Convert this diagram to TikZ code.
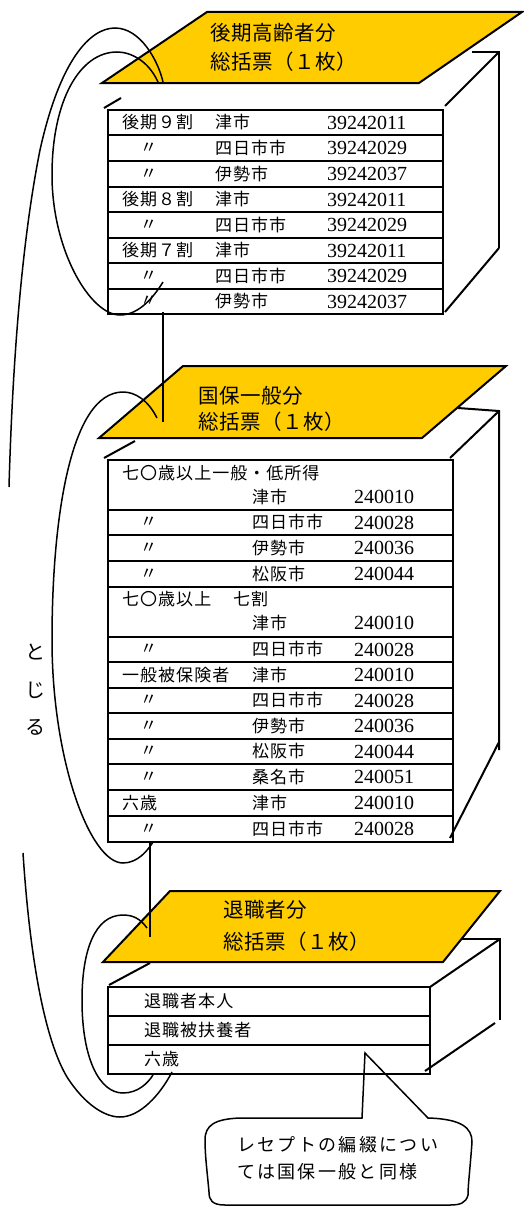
\documentclass[tikz,border=0pt]{standalone}
\usepackage{fontspec}
\setmainfont{Liberation Serif}
\newfontfamily\jpcell{Noto Sans CJK JP}[LetterSpace=6]
\newfontfamily\jptitle{Noto Sans CJK JP}[LetterSpace=3]
\newfontfamily\jpnote{Noto Sans CJK JP}[LetterSpace=13]
\newfontfamily\jpplain{Noto Sans CJK JP}
\definecolor{hdr}{RGB}{255,204,0}
\begin{document}
\begin{tikzpicture}[x=1pt,y=-1pt,
  edge/.style={line width=2pt},
  loopline/.style={line width=1.5pt},
  par/.style={fill=hdr,draw=black,line width=2pt,line join=miter},
  cell/.style={anchor=west,inner sep=0pt,font=\jpcell\fontsize{17}{17}\selectfont},
  num/.style={anchor=west,inner sep=0pt,font=\fontsize{20}{20}\selectfont},
  ttl/.style={anchor=west,inner sep=0pt,font=\jptitle\fontsize{20.5}{20.5}\selectfont},
  note/.style={anchor=west,inner sep=0pt,font=\jpnote\fontsize{18}{18}\selectfont},
]
\useasboundingbox (0,0) rectangle (523,1207);

% ---------- Block 1 ----------
\draw[edge] (472,52) -- (499,52) -- (499,248);
\draw[edge] (499,52) -- (445,106);
\draw[edge] (104,108) -- (121,98);
\draw[edge] (445,312) -- (499,248);
\draw[par] (207,12) -- (522,12) -- (419,83) -- (102,83) -- cycle;
\node[ttl] (t1a) at (210,33) {後期高齢者分};
\node[ttl] (t1b) at (210,62) {総括票（１枚）};
\draw[edge] (108,110) rectangle (443,314);
\foreach \yy in {135,161,187,212,238,263,289} \draw[edge] (108,\yy) -- (443,\yy);
\foreach \yy/\xa/\a/\b/\c [count=\i] in {
  122.5/122/後期９割/津市/39242011,
  148/140/〃/四日市市/39242029,
  174/140/〃/伊勢市/39242037,
  199.5/122/後期８割/津市/39242011,
  225/140/〃/四日市市/39242029,
  250.5/122/後期７割/津市/39242011,
  276/140/〃/四日市市/39242029,
  301.5/140/〃/伊勢市/39242037}{
  \node[cell] (b1a\i) at (\xa,\yy) {\a};
  \node[cell] (b1b\i) at (215,\yy) {\b};
  \node[num] (b1c\i) at (327,\yy) {\c};
}

% ---------- Block 2 ----------
\draw[edge] (458,408) -- (499,411) -- (499,750);
\draw[edge] (499,411) -- (450,458);
\draw[edge] (104,458) -- (135,441);
\draw[edge] (450,838) -- (499,742);
\draw[par] (183,366) -- (506,366) -- (422,438) -- (99,438) -- cycle;
\node[ttl] (t2a) at (198,396) {国保一般分};
\node[ttl] (t2b) at (198,422) {総括票（１枚）};
\draw[edge] (108,460) rectangle (453,842);
\foreach \yy in {510,535,561,587,637,662,688,713,739,764,790,816} \draw[edge] (108,\yy) -- (453,\yy);
\node[cell] (b2h1) at (122,473) {七〇歳以上一般・低所得};
\node[cell] (b2h2) at (122,599) {七〇歳以上};
\node[cell] (b2h3) at (233,599) {七割};
\foreach \yy/\xa/\a/\b/\c [count=\i] in {
  497/122/{}/津市/240010,
  522.5/140/〃/四日市市/240028,
  548/140/〃/伊勢市/240036,
  574/140/〃/松阪市/240044,
  623/122/{}/津市/240010,
  649.5/140/〃/四日市市/240028,
  675/122/一般被保険者/津市/240010,
  700.5/140/〃/四日市市/240028,
  726/140/〃/伊勢市/240036,
  751.5/140/〃/松阪市/240044,
  777/140/〃/桑名市/240051,
  803/122/六歳/津市/240010,
  829/140/〃/四日市市/240028}{
  \node[cell] (b2a\i) at (\xa,\yy) {\a};
  \node[cell] (b2b\i) at (252,\yy) {\b};
  \node[num] (b2c\i) at (354,\yy) {\c};
}

% ---------- Block 3 ----------
\draw[edge] (458,939) -- (500,939) -- (500,1020);
\draw[edge] (500,939) -- (430,987);
\draw[edge] (109,985) -- (150,963);
\draw[edge] (425,1071) -- (495,1023);
\draw[par] (170,891) -- (500,891) -- (443,962) -- (103,962) -- cycle;
\node[ttl] (t3a) at (223,910) {退職者分};
\node[ttl] (t3b) at (223,942) {総括票（１枚）};
\draw[edge] (108,987) rectangle (430,1074);
\foreach \yy in {1016,1045} \draw[edge] (108,\yy) -- (430,\yy);
\node[cell] (b3a) at (144,1001.5) {退職者本人};
\node[cell] (b3b) at (144,1030.5) {退職被扶養者};
\node[cell] (b3c) at (144,1059.5) {六歳};

% ---------- binding loops ----------
\draw[loopline] (9,487) .. controls (12,380) and (20,250) .. (40,150)
  .. controls (60,60) and (90,28) .. (115,28)
  .. controls (140,28) and (158,60) .. (163,82);
\draw[loopline] (158,82) .. controls (148,60) and (130,52) .. (117,52)
  .. controls (80,52) and (52,100) .. (52,175)
  .. controls (52,250) and (90,315) .. (120,315)
  .. controls (140,315) and (155,295) .. (163,282);
\draw[loopline] (157,418) .. controls (148,400) and (135,392) .. (123,392)
  .. controls (70,392) and (52,520) .. (52,640)
  .. controls (52,760) and (90,863) .. (123,863)
  .. controls (138,863) and (148,850) .. (153,842);
\draw[loopline] (23,853) .. controls (30,960) and (45,1040) .. (67,1077)
  .. controls (85,1105) and (105,1117) .. (120,1117)
  .. controls (140,1117) and (160,1095) .. (172,1072);
\draw[loopline] (147,928) .. controls (140,918) and (132,915) .. (123,915)
  .. controls (95,915) and (82,950) .. (82,1000)
  .. controls (82,1060) and (100,1093) .. (123,1093)
  .. controls (138,1093) and (148,1083) .. (153,1075);

% ---------- vertical connectors ----------
\coordinate (v1s) at (163,312);
\coordinate (v1e) at (163,422);
\coordinate (v2s) at (150,842);
\coordinate (v2e) at (150,937);
\draw[edge] (v1s) -- (v1e);
\draw[edge] (v2s) -- (v2e);

\node[font=\jpplain\fontsize{20}{37.5}\selectfont,align=center,inner sep=0pt] (tojiru) at (35,690) {と\\じ\\る};

% ---------- callout ----------
\draw[loopline,line join=miter] (362,1118) -- (365,1053) -- (428,1118)
  .. controls (462,1119) and (472,1128) .. (472,1142)
  .. controls (470,1170) and (468,1185) .. (468,1195)
  .. controls (466,1203) and (460,1205) .. (450,1205)
  -- (225,1205)
  .. controls (212,1205) and (209,1200) .. (209,1192)
  .. controls (207,1170) and (205,1155) .. (205,1140)
  .. controls (205,1125) and (215,1119) .. (240,1118) -- cycle;
\node[note] (n1) at (237,1145) {レセプトの編綴につい};
\node[note] (n2) at (237,1172) {ては国保一般と同様};
\end{tikzpicture}
\end{document}
